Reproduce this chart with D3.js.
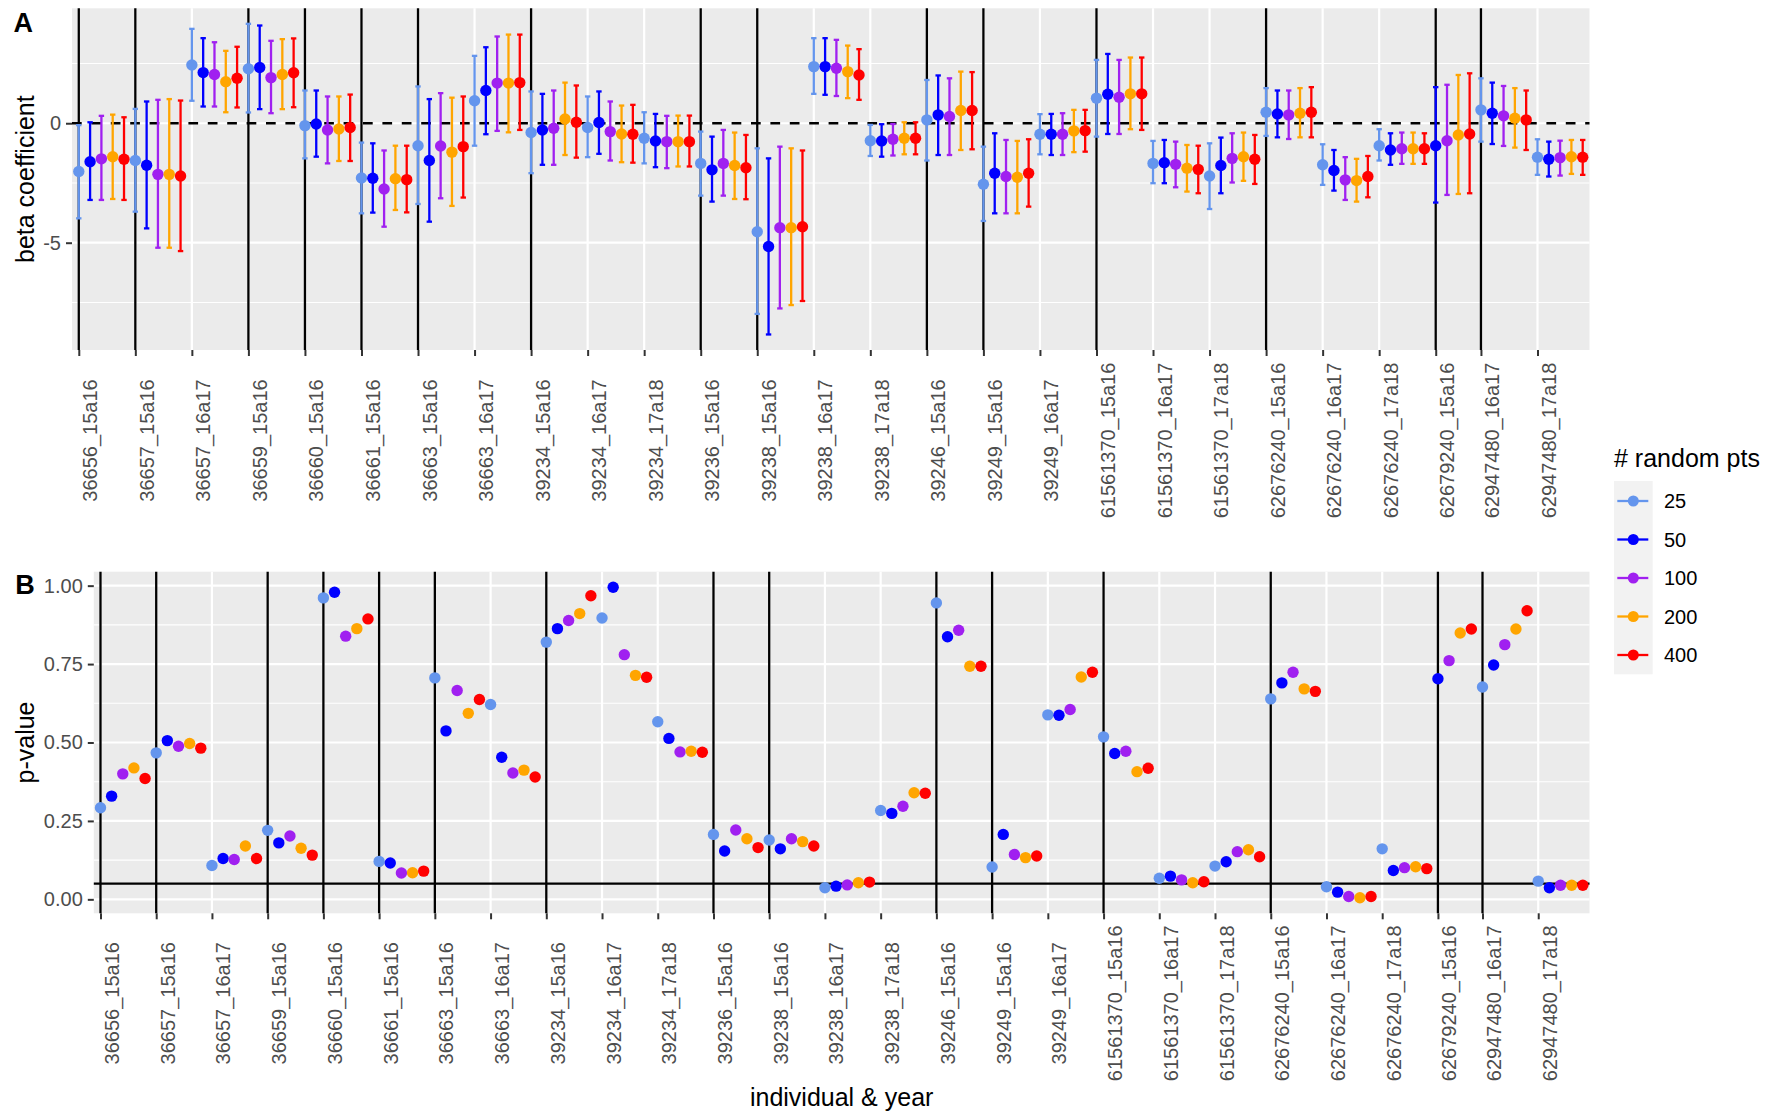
<!DOCTYPE html>
<html><head><meta charset="utf-8">
<script src="https://cdn.jsdelivr.net/npm/d3@7"></script>
<style>
body{margin:0;background:#fff}
svg{display:block}
text{font-family:"Liberation Sans",Arial,Helvetica,sans-serif}
</style>
</head><body>
<svg id="chart" width="1775" height="1115"></svg>
<script>
// ---------------- DATA ----------------
const categories = ["36656_15a16","36657_15a16","36657_16a17","36659_15a16","36660_15a16","36661_15a16","36663_15a16","36663_16a17","39234_15a16","39234_16a17","39234_17a18","39236_15a16","39238_15a16","39238_16a17","39238_17a18","39246_15a16","39249_15a16","39249_16a17","61561370_15a16","61561370_16a17","61561370_17a18","62676240_15a16","62676240_16a17","62676240_17a18","62679240_15a16","62947480_16a17","62947480_17a18"];
const seriesNames = ["25","50","100","200","400"];
const seriesColors = ["#6495ED","#0000FF","#A020F0","#FFA500","#FF0000"];

// beta coefficient estimates, lower and upper bounds (panel A)
const beta25 = [-2.02,-1.56,2.44,2.28,-0.10,-2.29,-0.94,0.94,-0.39,-0.18,-0.63,-1.68,-4.54,2.37,-0.73,0.14,-2.55,-0.46,1.05,-1.68,-2.21,0.46,-1.74,-0.94,null,0.56,-1.42];
const lo25   = [-3.98,-3.70,0.94,0.45,-1.47,-3.77,-3.38,-0.94,-2.09,-1.42,-1.68,-3.03,-7.98,1.23,-1.37,-1.56,-4.09,-1.30,-0.56,-2.51,-3.59,-0.53,-2.58,-1.56,null,-0.77,-2.16];
const hi25   = [-0.08,0.60,3.95,4.16,1.37,-0.81,1.54,2.82,1.33,1.12,0.46,-0.35,-1.05,3.56,-0.07,1.81,-0.98,0.38,2.65,-0.74,-0.84,1.47,-0.88,-0.25,null,1.88,-0.67];

const beta50 = [-1.61,-1.76,2.12,2.33,-0.03,-2.30,-1.56,1.37,-0.28,0.03,-0.74,-1.95,-5.16,2.37,-0.74,0.35,-2.09,-0.46,1.21,-1.65,-1.77,0.39,-1.98,-1.12,-0.94,0.42,-1.51];
const lo50   = [-3.21,-4.40,0.70,0.59,-1.40,-3.74,-4.12,-0.46,-1.74,-1.28,-1.84,-3.28,-8.84,1.19,-1.40,-1.33,-3.77,-1.33,-0.45,-2.51,-2.93,-0.59,-2.82,-1.74,-3.32,-0.87,-2.23];
const hi50   = [0.04,0.91,3.56,4.09,1.37,-0.84,1.01,3.18,1.23,1.33,0.39,-0.56,-1.47,3.56,-0.04,2.00,-0.42,0.39,2.90,-0.70,-0.60,1.37,-1.12,-0.42,1.51,1.70,-0.77];

const beta100 = [-1.49,-2.14,2.04,1.91,-0.28,-2.75,-0.95,1.68,-0.21,-0.35,-0.77,-1.68,-4.37,2.30,-0.67,0.28,-2.23,-0.46,1.09,-1.72,-1.47,0.35,-2.37,-1.07,-0.73,0.31,-1.44];
const lo100   = [-3.21,-5.21,0.70,0.42,-1.68,-4.33,-3.14,-0.32,-1.74,-1.56,-1.88,-3.03,-7.75,1.14,-1.35,-1.33,-3.77,-1.33,-0.45,-2.68,-2.48,-0.66,-3.21,-1.70,-3.00,-0.95,-2.19];
const hi100   = [0.31,0.98,3.39,3.45,1.12,-1.14,1.26,3.63,1.37,0.91,0.31,-0.28,-0.98,3.49,-0.03,1.88,-0.70,0.42,2.65,-0.77,-0.42,1.37,-1.42,-0.39,1.61,1.56,-0.73];

const beta200 = [-1.40,-2.14,1.74,2.04,-0.24,-2.32,-1.21,1.68,0.18,-0.45,-0.77,-1.77,-4.37,2.16,-0.63,0.53,-2.26,-0.32,1.23,-1.88,-1.40,0.42,-2.40,-1.07,-0.49,0.21,-1.40];
const lo200   = [-3.17,-5.21,0.46,0.59,-1.58,-3.63,-3.46,-0.38,-1.33,-1.63,-1.81,-3.17,-7.61,1.05,-1.30,-1.12,-3.77,-1.21,-0.25,-2.86,-2.41,-0.59,-3.28,-1.70,-2.96,-1.02,-2.12];
const hi200   = [0.36,1.01,3.03,3.52,1.12,-0.94,1.07,3.71,1.70,0.74,0.32,-0.39,-1.05,3.25,0.04,2.16,-0.74,0.56,2.75,-0.91,-0.39,1.47,-1.49,-0.39,2.02,1.47,-0.70];

const beta400 = [-1.51,-2.21,1.88,2.11,-0.18,-2.36,-0.98,1.70,0.04,-0.46,-0.77,-1.86,-4.33,2.02,-0.63,0.53,-2.09,-0.31,1.23,-1.93,-1.51,0.46,-2.23,-1.07,-0.45,0.14,-1.42];
const lo400   = [-3.21,-5.35,0.66,0.67,-1.58,-3.73,-3.11,-0.28,-1.44,-1.65,-1.81,-3.18,-7.44,0.98,-1.30,-1.09,-3.49,-1.19,-0.28,-2.93,-2.54,-0.59,-3.10,-1.70,-2.93,-1.12,-2.16];
const hi400   = [0.25,0.95,3.20,3.55,1.20,-0.94,1.12,3.71,1.58,0.77,0.32,-0.49,-1.14,3.10,0.04,2.14,-0.67,0.56,2.75,-0.94,-0.49,1.51,-1.37,-0.42,2.09,1.37,-0.70];

// p-values (panel B)
const p25  = [0.292,0.467,0.108,0.220,0.961,0.121,0.706,0.621,0.820,0.897,0.566,0.207,0.189,0.037,0.283,0.945,0.103,0.588,0.518,0.067,0.106,0.639,0.040,0.161,null,0.677,0.058];
const p50  = [0.329,0.506,0.130,0.180,0.979,0.116,0.537,0.453,0.863,0.995,0.513,0.154,0.161,0.042,0.274,0.837,0.207,0.587,0.465,0.074,0.120,0.690,0.023,0.092,0.703,0.747,0.037];
const p100 = [0.400,0.488,0.127,0.202,0.839,0.084,0.666,0.403,0.889,0.780,0.470,0.221,0.193,0.046,0.297,0.858,0.143,0.605,0.472,0.062,0.152,0.724,0.009,0.101,0.761,0.812,0.045];
const p200 = [0.419,0.497,0.170,0.163,0.863,0.085,0.593,0.412,0.911,0.714,0.472,0.193,0.184,0.053,0.340,0.743,0.133,0.709,0.407,0.053,0.158,0.671,0.005,0.104,0.849,0.862,0.045];
const p400 = [0.385,0.482,0.130,0.141,0.894,0.090,0.637,0.390,0.968,0.708,0.469,0.165,0.170,0.055,0.338,0.743,0.138,0.724,0.418,0.056,0.136,0.663,0.009,0.098,0.862,0.920,0.045];

const betaTicks = [-5, 0];
const pTicks = [0, 0.25, 0.5, 0.75, 1];
const pThreshold = 0.05;

// ---------------- BUILD ROWS ----------------
const series = seriesNames.map((n, k) => ({
  name: n, color: seriesColors[k],
  beta: [beta25,beta50,beta100,beta200,beta400][k],
  lo: [lo25,lo50,lo100,lo200,lo400][k],
  hi: [hi25,hi50,hi100,hi200,hi400][k],
  p: [p25,p50,p100,p200,p400][k]
}));
const rows = [];
const firstRow = [];
categories.forEach((c, i) => {
  firstRow.push(rows.length);
  series.forEach(s => {
    if (s.beta[i] != null) rows.push({id: rows.length, ci: i, s, beta: s.beta[i], lo: s.lo[i], hi: s.hi[i], p: s.p[i]});
  });
});
const indiv = c => c.split("_")[0];
const isNewIndiv = categories.map((c, i) => i === 0 || indiv(c) !== indiv(categories[i - 1]));

const expand = (a, b) => [a - 0.05 * (b - a), b + 0.05 * (b - a)];

// ---------------- DRAW ----------------
const svg = d3.select("#chart");
svg.append("rect").attr("width", 1775).attr("height", 1115).attr("fill", "#fff");

const FONT_TICK = 20, FONT_TITLE = 25;
const GRAY_TXT = "#4D4D4D", TICK_COL = "#333333";

function drawPanel(cfg) {
  const g = svg.append("g");
  const {x, y, L, R, T, B, majors, minors} = cfg;
  g.append("rect").attr("x", L).attr("y", T).attr("width", R - L).attr("height", B - T).attr("fill", "#EBEBEB");
  // minor grid
  g.selectAll(".ymin").data(minors).join("line")
    .attr("x1", L).attr("x2", R).attr("y1", d => y(d)).attr("y2", d => y(d))
    .attr("stroke", "#fff").attr("stroke-width", 1.1);
  // major grid
  g.selectAll(".ymaj").data(majors).join("line")
    .attr("x1", L).attr("x2", R).attr("y1", d => y(d)).attr("y2", d => y(d))
    .attr("stroke", "#fff").attr("stroke-width", 2.2);
  g.selectAll(".xmaj").data(firstRow).join("line")
    .attr("x1", d => x(d)).attr("x2", d => x(d)).attr("y1", T).attr("y2", B)
    .attr("stroke", "#fff").attr("stroke-width", 2.2);
  // black vertical lines at each new individual
  g.selectAll(".vl").data(firstRow.filter((d, i) => isNewIndiv[i])).join("line")
    .attr("x1", d => x(d)).attr("x2", d => x(d)).attr("y1", T).attr("y2", B)
    .attr("stroke", "#000").attr("stroke-width", 2.3);
  // y axis
  const ya = svg.append("g").attr("transform", `translate(${L},0)`)
    .call(d3.axisLeft(y).tickValues(majors).tickSize(6).tickPadding(5).tickFormat(cfg.fmt));
  ya.select(".domain").remove();
  ya.selectAll("line").attr("stroke", TICK_COL).attr("stroke-width", 2);
  ya.selectAll("text").attr("fill", GRAY_TXT).style("font-size", FONT_TICK + "px")
    .style("font-family", '"Liberation Sans",Arial,sans-serif');
  // x axis
  const xa = svg.append("g").attr("transform", `translate(0,${B})`)
    .call(d3.axisBottom(x).tickValues(firstRow).tickSize(6)
      .tickFormat(d => categories[rows[d].ci]));
  xa.select(".domain").remove();
  xa.selectAll("line").attr("stroke", TICK_COL).attr("stroke-width", 2);
  xa.selectAll("text")
    .attr("x", null).attr("y", null).attr("dy", null)
    .attr("transform", `translate(18,${cfg.labelCenter - B}) rotate(-90)`)
    .attr("text-anchor", "middle")
    .attr("fill", GRAY_TXT).style("font-size", FONT_TICK + "px")
    .style("font-family", '"Liberation Sans",Arial,sans-serif');
  return g;
}

// Panel A
const LA = 72, RA = 1589.5, TA = 8.3, BA = 350;
const xA = d3.scalePoint().domain(rows.map(r => r.id)).range([LA, RA]).padding(0.6);
const yA = d3.scaleLinear().domain(expand(d3.min(rows, r => r.lo), d3.max(rows, r => r.hi))).range([BA, TA]);
const gA = drawPanel({x: xA, y: yA, L: LA, R: RA, T: TA, B: BA, majors: betaTicks, minors: [-7.5, -2.5, 2.5],
  fmt: d => String(d), labelCenter: 440.5});
gA.append("line").attr("x1", LA).attr("x2", RA).attr("y1", yA(0)).attr("y2", yA(0))
  .attr("stroke", "#000").attr("stroke-width", 2.3).attr("stroke-dasharray", "9.7,9.7");
const eb = gA.append("g");
rows.forEach(r => {
  const cx = xA(r.id), cw = 2.7;
  const e = eb.append("g").attr("stroke", r.s.color).attr("stroke-width", 2.3);
  e.append("line").attr("x1", cx).attr("x2", cx).attr("y1", yA(r.lo)).attr("y2", yA(r.hi));
  e.append("line").attr("x1", cx - cw).attr("x2", cx + cw).attr("y1", yA(r.lo)).attr("y2", yA(r.lo));
  e.append("line").attr("x1", cx - cw).attr("x2", cx + cw).attr("y1", yA(r.hi)).attr("y2", yA(r.hi));
});
gA.append("g").selectAll("circle").data(rows).join("circle")
  .attr("cx", d => xA(d.id)).attr("cy", d => yA(d.beta)).attr("r", 5.7).attr("fill", d => d.s.color);

// Panel B
const LB = 93.8, RB = 1589.5, TB = 571.7, BB = 913.3;
const xB = d3.scalePoint().domain(rows.map(r => r.id)).range([LB, RB]).padding(0.6);
const yB = d3.scaleLinear().domain(expand(d3.min(rows, r => r.p), d3.max(rows, r => r.p))).range([BB, TB]);
const gB = drawPanel({x: xB, y: yB, L: LB, R: RB, T: TB, B: BB, majors: pTicks, minors: [0.125, 0.375, 0.625, 0.875],
  fmt: d3.format(".2f"), labelCenter: 1003.3});
gB.append("line").attr("x1", LB).attr("x2", RB).attr("y1", yB(pThreshold)).attr("y2", yB(pThreshold))
  .attr("stroke", "#000").attr("stroke-width", 2.3);
gB.append("g").selectAll("circle").data(rows).join("circle")
  .attr("cx", d => xB(d.id)).attr("cy", d => yB(d.p)).attr("r", 5.7).attr("fill", d => d.s.color);

// Titles
svg.append("text").attr("transform", `translate(33.7,${(TA + BA) / 2}) rotate(-90)`).attr("text-anchor", "middle")
  .style("font-size", FONT_TITLE + "px").attr("fill", "#000").text("beta coefficient");
svg.append("text").attr("transform", `translate(33.7,${(TB + BB) / 2}) rotate(-90)`).attr("text-anchor", "middle")
  .style("font-size", FONT_TITLE + "px").attr("fill", "#000").text("p-value");
svg.append("text").attr("x", (LB + RB) / 2).attr("y", 1106).attr("text-anchor", "middle")
  .style("font-size", FONT_TITLE + "px").attr("fill", "#000").text("individual & year");
svg.append("text").attr("x", 13.4).attr("y", 31.7).style("font-size", "27px").style("font-weight", "bold").text("A");
svg.append("text").attr("x", 15.3).attr("y", 594).style("font-size", "27px").style("font-weight", "bold").text("B");

// Legend
const lg = svg.append("g");
lg.append("text").attr("x", 1614).attr("y", 466.7).style("font-size", FONT_TITLE + "px").attr("fill", "#000").text("# random pts");
lg.append("rect").attr("x", 1614).attr("y", 481).attr("width", 38.7).attr("height", 193.3).attr("fill", "#F2F2F2");
series.forEach((s, k) => {
  const cy = 501 + k * 38.5;
  lg.append("line").attr("x1", 1617.3).attr("x2", 1648.3).attr("y1", cy).attr("y2", cy).attr("stroke", s.color).attr("stroke-width", 2.3);
  lg.append("circle").attr("cx", 1633.3).attr("cy", cy).attr("r", 5.5).attr("fill", s.color);
  lg.append("text").attr("x", 1664).attr("y", cy + 7.2).style("font-size", FONT_TICK + "px").attr("fill", "#000").text(s.name);
});
</script>
</body></html>
